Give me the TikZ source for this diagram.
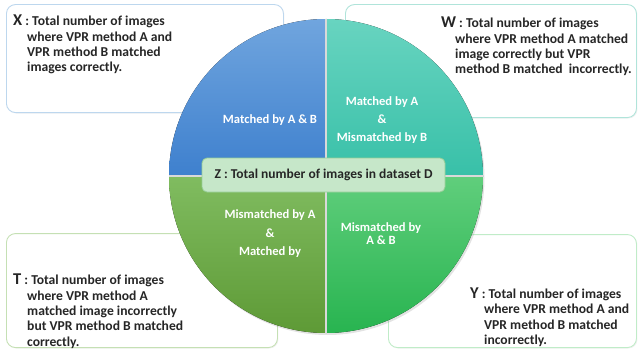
\documentclass[tikz,border=0pt]{standalone}
\usepackage{fontspec}
\setmainfont{Carlito}
\usepackage{xcolor}
\usetikzlibrary{positioning,shadows}

\definecolor{blueTop}{RGB}{112,165,222}
\definecolor{blueBot}{RGB}{62,128,206}
\definecolor{tealTop}{RGB}{104,212,192}
\definecolor{tealBot}{RGB}{56,192,168}
\definecolor{oliveTop}{RGB}{128,188,96}
\definecolor{oliveBot}{RGB}{94,154,54}
\definecolor{greenTop}{RGB}{96,206,124}
\definecolor{greenBot}{RGB}{40,180,80}
\definecolor{xline}{RGB}{189,215,238}
\definecolor{wline}{RGB}{176,228,218}
\definecolor{tline}{RGB}{197,224,180}
\definecolor{yline}{RGB}{192,236,200}
\definecolor{zfill}{RGB}{198,231,201}
\definecolor{zline}{RGB}{150,206,150}

\tikzset{
  infobox/.style={rectangle, rounded corners=9pt, line width=0.9pt,
                  fill=white, anchor=south west,
                  drop shadow={opacity=0.10, shadow xshift=1pt, shadow yshift=-1pt}},
  desc/.style={anchor=north west, inner sep=0pt, align=left,
               font=\fontsize{13.6}{15.3}\selectfont\bfseries, text=black!85},
  qlabel/.style={inner sep=0pt, align=center, text=white,
                 font=\fontsize{12.6}{14}\selectfont\bfseries},
  datasetbox/.style={rectangle, rounded corners=5pt, line width=0.8pt,
                     fill=zfill, draw=zline, minimum width=243pt, minimum height=34pt,
                     font=\fontsize{13.5}{15}\selectfont\bfseries, text=black!85},
  sep/.style={draw=black!15, line width=1.6pt},
}

\newcommand{\keyletter}[1]{{\fontsize{16.5}{16}\selectfont #1}}
\newcommand{\descindent}{\hspace*{14pt}}

\begin{document}
\begin{tikzpicture}[x=1pt,y=1pt]
\useasboundingbox (0,0) rectangle (638,349);

% description boxes behind the circle
\node[infobox, draw=xline, minimum width=277pt, minimum height=108pt] (xbox) at (6,236) {};
\node[infobox, draw=wline, minimum width=291pt, minimum height=113pt] (wbox) at (345,231) {};
\node[infobox, draw=tline, minimum width=271pt, minimum height=114pt] (tbox) at (6,1) {};
\node[infobox, draw=yline, minimum width=248pt, minimum height=113pt] (ybox) at (388,1) {};

\node[desc] (xtext) at (13,334)
  {\keyletter{X} : Total number of images\\
   \descindent where VPR method A and\\
   \descindent VPR method B matched\\
   \descindent images correctly.};
\node[desc] (wtext) at (441,332)
  {\keyletter{W} : Total number of images\\
   \descindent where VPR method A matched\\
   \descindent image correctly but VPR\\
   \descindent method B matched\ \ incorrectly.};
\node[desc] (ttext) at (13,75)
  {\keyletter{T} : Total number of images\\
   \descindent where VPR method A\\
   \descindent matched image incorrectly\\
   \descindent but VPR method B matched\\
   \descindent correctly.};
\node[desc] (ytext) at (470,61.5)
  {\keyletter{Y} : Total number of images\\
   \descindent where VPR method A and\\
   \descindent VPR method B matched\\
   \descindent incorrectly.};

% the four quarters
\coordinate (c) at (326,173);
\def\rad{157}
\fill[white, drop shadow={opacity=0.22, shadow xshift=1.5pt, shadow yshift=-2pt}]
  (c) circle[radius=\rad];
\fill[top color=blueTop, bottom color=blueBot]
  (c) -- ++(180:\rad) arc[start angle=180, end angle=90, radius=\rad] -- cycle;
\fill[top color=tealTop, bottom color=tealBot]
  (c) -- ++(90:\rad) arc[start angle=90, end angle=0, radius=\rad] -- cycle;
\fill[top color=oliveTop, bottom color=oliveBot]
  (c) -- ++(270:\rad) arc[start angle=270, end angle=180, radius=\rad] -- cycle;
\fill[top color=greenTop, bottom color=greenBot]
  (c) -- ++(0:\rad) arc[start angle=0, end angle=-90, radius=\rad] -- cycle;
\draw[sep] (c) ++(180:\rad) -- ++(0:2*\rad);
\draw[sep] (c) ++(90:\rad) -- ++(270:2*\rad);

\node[qlabel] (qab) at (270,229) {Matched by A \& B};
\node[qlabel] (qa) at (382,229)
  {Matched by A\\[4pt]\&\\[4pt]Mismatched by B};
\node[qlabel] (qb) at (270,115)
  {Mismatched by A\\[4.5pt]\&\\[4.5pt]Matched by};
\node[qlabel] (qnone) at (381,115.5) {Mismatched by\\[-1.5pt]A \& B};

% dataset label on top
\node[datasetbox] (zbox) at (323.5,174) {Z : Total number of images in dataset D};

\end{tikzpicture}
\end{document}
